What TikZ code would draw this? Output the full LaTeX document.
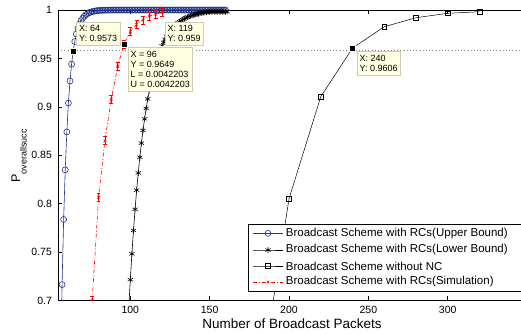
\documentclass[tikz,border=0pt]{standalone}
\usepackage{fontspec}
\setmainfont{Liberation Sans}
\usetikzlibrary{plotmarks,positioning}

\definecolor{ubblue}{RGB}{30,50,140}
\definecolor{tipfill}{RGB}{255,255,225}
\definecolor{tipedge}{RGB}{205,205,175}

\begin{document}
\begin{tikzpicture}[x=1pt, y=1pt,
    axisline/.style={line width=0.9pt},
    tickmark/.style={line width=0.6pt},
    ticklab/.style={font=\fontsize{10.5}{12}\selectfont, inner sep=0pt},
    refline/.style={gray, line width=0.6pt, dash pattern=on 0.8pt off 2.4pt},
    upper/.style={ubblue, line width=0.6pt, mark=o, mark size=3pt},
    lower/.style={black, line width=0.6pt, mark=asterisk, mark size=3pt},
    nonc/.style={black, line width=0.5pt, mark=square, mark size=2.4pt},
    sim/.style={red, line width=0.6pt, dash pattern=on 4pt off 2pt on 1pt off 2pt, mark=x, mark size=1.8pt, mark options={solid}},
    errbar/.style={red, line width=0.6pt},
    tipmark/.style={draw=tipfill, fill=black, minimum size=6pt, inner sep=0pt, line width=0.5pt},
    tipbox/.style={draw=tipedge, fill=tipfill, font=\fontsize{9}{10}\selectfont, align=left, inner xsep=2.5pt, inner ysep=3.5pt},
    legtext/.style={font=\fontsize{11.5}{13}\selectfont, anchor=west, inner sep=0pt}]

    \useasboundingbox (0,0) rectangle (521,333);

    \begin{scope}[x=1.587pt, y=968pt, shift={(-28.4pt,-645pt)}]
        % axes
        \draw[refline] (54.5,0.9585) -- (347,0.9585);
        \draw[axisline] (347,1) -- (54.5,1) -- (54.5,0.7) -- (347,0.7);
        \foreach \t in {100,150,...,300} {
            \draw[tickmark] (\t,0.7) -- ++(0,4pt);
            \draw[tickmark] (\t,1) -- ++(0,-4pt);
            \node[ticklab, anchor=north, yshift=-5.5pt] (xt\t) at (\t,0.7) {\t};
        }
        \foreach \v [count=\i] in {0.7,0.75,0.8,0.85,0.9,0.95,1} {
            \draw[tickmark] (54.5,\v) -- ++(4pt,0);
            \node[ticklab, anchor=east, xshift=-6pt] (yt\i) at (54.5,\v) {\v};
        }

        % curves
        \begin{scope}
            \clip (54.5,0.7) rectangle (347,1.03);
            \draw[upper] plot[domain=56:160, samples=105] (\x,{1-0.0427*0.763^(min(\x,95)-64)});
            \draw[lower] plot[domain=99:161, samples=63] (\x,{1-0.041*0.904^(min(\x,150)-119)});
            \draw[nonc] plot coordinates {(180,0.593) (200,0.805) (220,0.9104) (240,0.9606) (260,0.9827) (280,0.992) (300,0.9966) (320,0.9982)};
            \draw[sim] plot coordinates {(76,0.700) (80,0.8065) (84,0.865) (88,0.9077) (92,0.9414) (96,0.9649) (100,0.9776) (104,0.9852) (108,0.9897) (112,0.9938) (116,0.9956) (120,0.9976)};
            \foreach \px/\py in {76/0.700, 80/0.8065, 84/0.865, 88/0.9077, 92/0.9414, 96/0.9649, 100/0.9776, 104/0.9852, 108/0.9897, 112/0.9938, 116/0.9956, 120/0.9976} {
                \draw[errbar] (\px,\py-0.0042) -- (\px,\py+0.0042);
                \draw[errbar] (\px-1.2,\py-0.0042) -- (\px+1.2,\py-0.0042);
                \draw[errbar] (\px-1.2,\py+0.0042) -- (\px+1.2,\py+0.0042);
            }
        \end{scope}

        % data tips
        \node[tipmark] (m64) at (64,0.9573) {};
        \node[tipmark] (m96) at (96,0.9649) {};
        \node[tipmark] (m119) at (119,0.959) {};
        \node[tipmark] (m240) at (240,0.9606) {};
        \node[tipbox, above right=6pt and 3.3pt of m64.center] (tip64) {X: 64\\Y: 0.9573};
        \node[tipbox, below right=3.4pt and 4pt of m96.center] (tip96) {X = 96\\Y = 0.9649\\L = 0.0042203\\U = 0.0042203};
        \node[tipbox, above right=4.3pt and 4.4pt of m119.center] (tip119) {X: 119\\Y: 0.959};
        \node[tipbox, below right=3pt and 4.4pt of m240.center] (tip240) {X: 240\\Y: 0.9606};
    \end{scope}

    % legend
    \draw[fill=white, line width=0.8pt] (248,109) rectangle (524,42);
    \draw[upper, mark indices={2}] plot coordinates {(253,99.7) (268,99.7) (283,99.7)};
    \draw[lower, mark indices={2}] plot coordinates {(253,83) (268,83) (283,83)};
    \draw[nonc, mark indices={2}] plot coordinates {(253,67) (268,67) (283,67)};
    \draw[sim, mark indices={2}] plot coordinates {(253,51) (268,51) (283,51)};
    \node[legtext] (leg1) at (285.7,99.7) {Broadcast Scheme with RCs(Upper Bound)};
    \node[legtext] (leg2) at (285.7,83) {Broadcast Scheme with RCs(Lower Bound)};
    \node[legtext] (leg3) at (285.7,67) {Broadcast Scheme without NC};
    \node[legtext] (leg4) at (285.7,51) {Broadcast Scheme with RCs(Simulation)};

    % labels
    \node[font=\fontsize{13.5}{15}\selectfont, inner sep=0pt] (xlab) at (292,9) {Number of Broadcast Packets};
    \node[rotate=90, anchor=base west, inner sep=0pt] (ylab) at (20,150) {\fontsize{12.5}{13}\selectfont P\raisebox{-6.5pt}{\fontsize{9}{10}\selectfont overallsucc}};
\end{tikzpicture}
\end{document}
